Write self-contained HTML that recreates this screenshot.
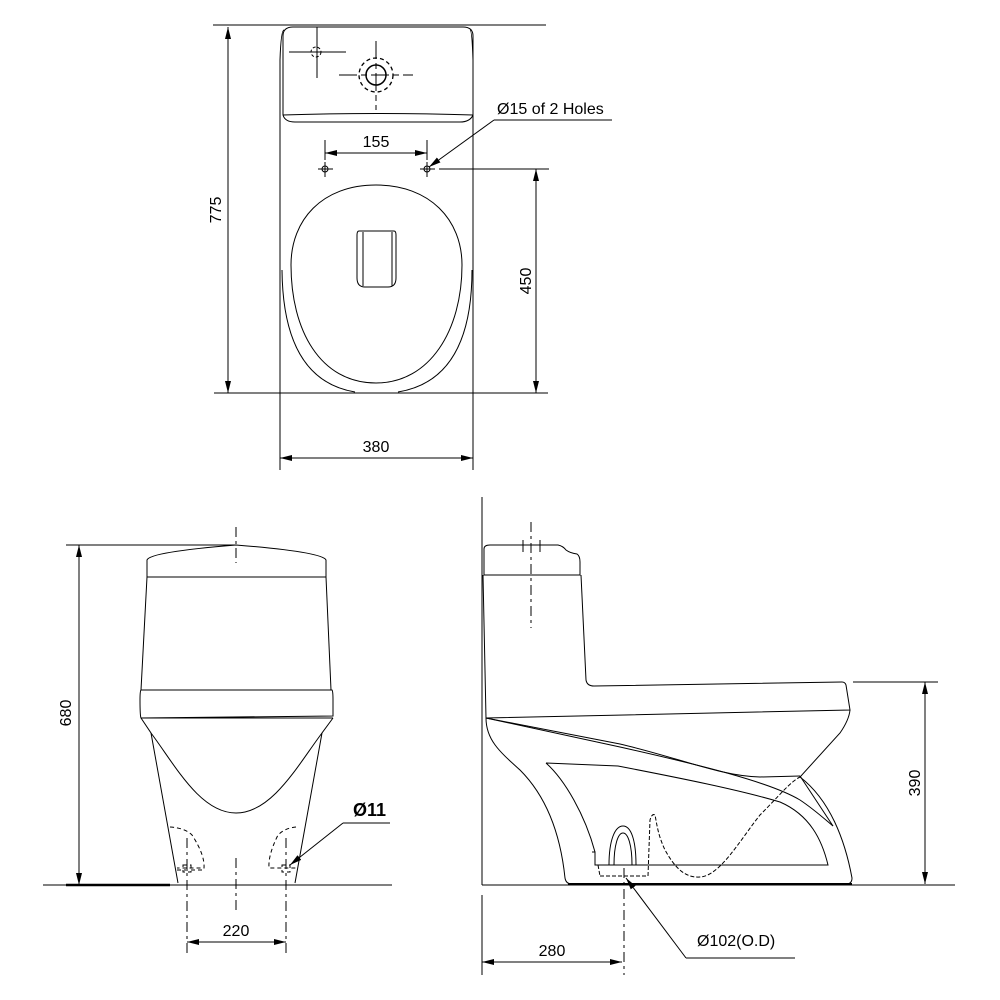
<!DOCTYPE html>
<html><head><style>
html,body{margin:0;padding:0;background:#fff;}
svg{display:block;}
text{font-family:"Liberation Sans",sans-serif;font-size:16px;fill:#000;}
</style></head><body>
<svg width="1000" height="1000" viewBox="0 0 1000 1000" xmlns="http://www.w3.org/2000/svg">
<defs>
<marker id="a" viewBox="0 0 12 6" refX="12" refY="3" markerWidth="12" markerHeight="6" orient="auto-start-reverse" markerUnits="userSpaceOnUse"><path d="M0,0 L12,3 L0,6z" fill="#000"/></marker>
</defs>
<g fill="none" stroke="#000" stroke-width="1">
<!-- TOP VIEW -->
<line x1="213" y1="25" x2="546" y2="25"/>
<line x1="214" y1="393" x2="548" y2="393"/>
<path d="M280,470 L280,60 Q281,30 284,30 M473,470 L473,60 Q472,30 470,30"/>
<path d="M283,115 L283,36 Q283,27 293,27 L463,27 Q473,27 473,36 L473,115 Q470,122 460,122 L295,122 Q285,122 283,115 Z"/>
<path d="M283,115 Q375,112 473,115"/>
<line x1="289" y1="52" x2="346" y2="52"/><line x1="317" y1="27" x2="317" y2="78"/>
<circle cx="316" cy="52" r="5" stroke-dasharray="3,2"/>
<line x1="339" y1="75" x2="413" y2="75" stroke-dasharray="18,4,6,4"/>
<line x1="376" y1="41" x2="376" y2="110" stroke-dasharray="18,4,6,4"/>
<circle cx="376" cy="75" r="10" stroke-width="1.5"/>
<circle cx="376" cy="75" r="17" stroke-dasharray="4,3" stroke-width="1.3"/>
<circle cx="325" cy="169" r="3"/><line x1="318" y1="169" x2="333" y2="169"/><line x1="325" y1="162" x2="325" y2="177"/>
<circle cx="427" cy="169" r="3"/><line x1="420" y1="169" x2="435" y2="169"/><line x1="427" y1="162" x2="427" y2="177"/>
<line x1="325" y1="140" x2="325" y2="160"/><line x1="427" y1="140" x2="427" y2="160"/>
<line x1="325" y1="153" x2="427" y2="153" marker-start="url(#a)" marker-end="url(#a)"/>
<line x1="494" y1="120" x2="429" y2="167" marker-end="url(#a)"/><line x1="494" y1="120" x2="612" y2="120"/>
<path d="M282,270 Q283,380 355,392 M472,270 Q472,380 398,392"/>
<path d="M376,185 C430,185 462,220 462,265 C462,330 430,383 376,383 C320,383 291,330 291,265 C291,220 322,185 376,185 Z"/>
<path d="M359,231 L394,231 Q396,231 396,235 L396,278 Q396,287 388,287 L365,287 Q357,287 357,278 L357,235 Q357,231 359,231 Z"/>
<path d="M363,232 L363,286 M392,232 L392,286"/>
<line x1="228" y1="27" x2="228" y2="393" marker-start="url(#a)" marker-end="url(#a)"/>
<line x1="439" y1="169" x2="549" y2="169"/>
<line x1="536" y1="169" x2="536" y2="393" marker-start="url(#a)" marker-end="url(#a)"/>
<line x1="280" y1="458" x2="473" y2="458" marker-start="url(#a)" marker-end="url(#a)"/>

<!-- FRONT VIEW -->
<line x1="66" y1="545" x2="236" y2="545"/>
<line x1="43" y1="885" x2="392" y2="885"/>
<line x1="66" y1="885" x2="170" y2="885" stroke-width="2.5"/>
<path d="M147,577 L147,560 Q150,552 236,545 Q322,552 326,560 L326,577 Z"/>
<path d="M147,577 L141,690 M326,577 L331,690"/>
<path d="M141,690 L332,690 Q333,691 333,700 L333,716 L141,718 Q140,716 140,700 Q140,691 141,690 Z"/>
<line x1="141" y1="718" x2="333" y2="718"/>
<path d="M141,718 L151,733 L178,883 M333,718 L322,733 L295,883"/>
<path d="M151,733 C175,765 200,813 236,813 C272,813 298,765 322,733"/>
<g stroke-dasharray="10,4,3,4">
<line x1="236" y1="527" x2="236" y2="563"/><line x1="236" y1="858" x2="236" y2="910"/>
<line x1="187" y1="838" x2="187" y2="955"/><line x1="286" y1="838" x2="286" y2="955"/>
</g>
<g stroke-dasharray="4,3">
<path d="M170,827 Q185,828 192,835 Q205,855 204,868 L177,868 M177,870 L204,870"/>
<path d="M296,827 Q285,828 278,835 Q268,855 269,868 L296,868"/>
<rect x="183" y="865" width="8" height="7"/><rect x="282" y="865" width="8" height="7"/>
</g>
<line x1="79" y1="545" x2="79" y2="885" marker-start="url(#a)" marker-end="url(#a)"/>
<line x1="187" y1="942" x2="286" y2="942" marker-start="url(#a)" marker-end="url(#a)"/>
<line x1="343" y1="823" x2="290" y2="865" marker-end="url(#a)"/><line x1="343" y1="823" x2="390" y2="823"/>

<!-- SIDE VIEW -->
<line x1="482" y1="497" x2="482" y2="885"/>
<line x1="482" y1="885" x2="955" y2="885"/>
<line x1="568" y1="884" x2="852" y2="884" stroke-width="2"/>
<path d="M484,575 L484,549 Q484,545 490,545 L558,545 Q563,546 566,550 Q570,553 577,554 Q580,556 580,562 L580,575 Z"/>
<path d="M581,575 L586,680 Q587,686 594,686 L842,682 Q845,682 846,685 L850,710 L486,718 L483,575"/>
<path d="M850,710 Q849,720 840,733 L800,777 C830,800 845,840 852,878 Q852,884 846,884"/>
<path d="M486,718 C486,740 500,752 520,770 C545,795 560,830 565,878 Q566,884 572,884"/>
<path d="M486,718 L620,744 C680,758 720,776 760,777 L800,776"/>
<path d="M486,718 L620,747 C700,765 770,782 800,800 C815,810 828,822 833,826"/>
<path d="M800,776 L833,826"/>
<path d="M546,763 L618,766 C680,778 740,790 780,802 C810,815 822,840 828,865 L595,865 L595,852 L592,852 M546,763 C565,780 585,815 595,852"/>
<path d="M609,865 C609,840 615,826 623,826 C631,826 636,840 636,865 M614,865 C614,845 618,833 623,833 C628,833 632,845 632,865"/>
<path d="M598,865 L600,876 M648,876 L650,820 Q652,813 655,815 C657,825 658,835 665,850 C675,868 685,878 700,877 C720,876 740,840 760,815 C780,795 790,782 800,777" stroke-dasharray="4,2"/>
<line x1="600" y1="876" x2="648" y2="876" stroke-dasharray="4,2"/>
<g stroke-dasharray="10,4,3,4"><line x1="531" y1="522" x2="531" y2="628"/></g>
<line x1="523" y1="540" x2="523" y2="552"/><line x1="540" y1="540" x2="540" y2="552"/>
<line x1="624" y1="868" x2="624" y2="975" stroke-dasharray="10,4,3,4"/>
<line x1="853" y1="682" x2="938" y2="682"/>
<line x1="925" y1="682" x2="925" y2="884" marker-start="url(#a)" marker-end="url(#a)"/>
<line x1="482" y1="895" x2="482" y2="975"/>
<line x1="482" y1="962" x2="622" y2="962" marker-start="url(#a)" marker-end="url(#a)"/>
<line x1="686" y1="958" x2="626" y2="878" marker-end="url(#a)"/><line x1="686" y1="958" x2="795" y2="958"/>
</g>
<text x="376" y="147" text-anchor="middle">155</text>
<text x="497" y="114">Ø15 of 2 Holes</text>
<text x="376" y="452" text-anchor="middle">380</text>
<text transform="translate(221,210) rotate(-90)" text-anchor="middle">775</text>
<text transform="translate(531,281) rotate(-90)" text-anchor="middle">450</text>
<text transform="translate(71,713) rotate(-90)" text-anchor="middle">680</text>
<text x="236" y="936" text-anchor="middle">220</text>
<text x="353" y="816" style="font-weight:bold;font-size:18px">Ø11</text>
<text transform="translate(920,783) rotate(-90)" text-anchor="middle">390</text>
<text x="552" y="956" text-anchor="middle">280</text>
<text x="697" y="946">Ø102(O.D)</text>
</svg>
</body></html>
